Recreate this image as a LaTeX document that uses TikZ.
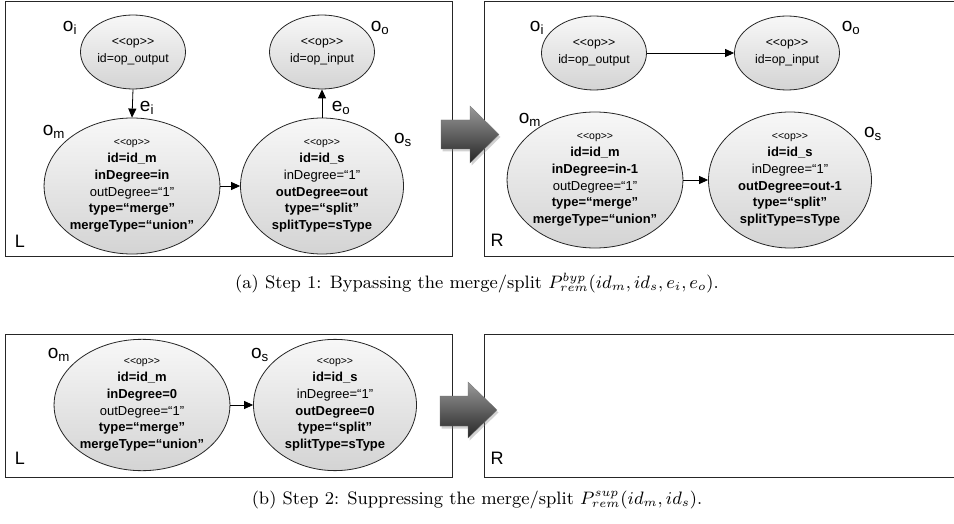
\documentclass[tikz,border=0pt]{standalone}
\usepackage{graphicx}
\usepackage{fontspec}
\newfontfamily\diagfont{Liberation Sans}
\usetikzlibrary{shapes.geometric,arrows.meta,shadows}

\newcommand{\stereo}{{\fontsize{10.5}{16.8}\selectfont <<op>>}}

\begin{document}
\begin{tikzpicture}[x=1pt,y=-1pt,
  panel/.style={draw=black!85,line width=0.9pt},
  opnode/.style={ellipse,draw=black!85,line width=0.8pt,
    top color=black!3,bottom color=black!17,inner sep=0pt,align=center,
    font=\diagfont\fontsize{13}{16.8}\selectfont},
  smallop/.style={opnode,minimum width=105pt,minimum height=74pt,
    font=\diagfont\fontsize{12.3}{17}\selectfont},
  bigop/.style={opnode,minimum width=163pt,minimum height=136pt},
  flow/.style={-{Triangle[length=9pt,width=8pt]},line width=0.8pt,black},
  tag/.style={font=\diagfont\fontsize{19}{19}\selectfont,inner sep=0pt},
  corner/.style={font=\diagfont\fontsize{18}{18}\selectfont,inner sep=0pt},
  caption/.style={font=\fontsize{9}{11}\selectfont,inner sep=0pt},
  fatarrow/.style={top color=black!40,bottom color=black!85,draw=black!55,
    line width=0.3pt,drop shadow={shadow xshift=1.5pt,shadow yshift=-2.5pt,opacity=0.35}}
]
\clip (0,0) rectangle (954,524);
\fill[white] (0,0) rectangle (954,524);

% ---------- step 1, left-hand side ----------
\draw[panel] (5,1) rectangle (452,256);
\node[smallop] (Loi) at (133,52) {<<op>>\\id=op\_output};
\node[smallop] (Loo) at (322,52) {<<op>>\\id=op\_input};
\node[bigop] (Lom) at (132,186) {\stereo\\\textbf{id=id\_m}\\\textbf{inDegree=in}\\outDegree=“1”\\\textbf{type=“merge”}\\\textbf{mergeType=“union”}};
\node[bigop] (Los) at (322,186) {\stereo\\\textbf{id=id\_s}\\inDegree=“1”\\\textbf{outDegree=out}\\\textbf{type=“split”}\\\textbf{splitType=sType}};
\draw[flow] (Loi.south) -- (Lom.north);
\draw[flow] (Los.north) -- (Loo.south);
\draw[flow] (Lom.east) -- (Los.west);
\node[tag] (Lti) at (70,28) {o\textsubscript{i}};
\node[tag] (Lto) at (380,28) {o\textsubscript{o}};
\node[tag] (Ltm) at (54,132) {o\textsubscript{m}};
\node[tag] (Lts) at (403,140) {o\textsubscript{s}};
\node[tag] (Lei) at (147,108) {e\textsubscript{i}};
\node[tag] (Leo) at (341,108) {e\textsubscript{o}};
\node[corner] (Lc) at (20,241) {L};

% ---------- step 1, right-hand side ----------
\draw[panel] (484,1) rectangle (960,256);
\node[smallop] (Roi) at (594,53) {<<op>>\\id=op\_output};
\node[smallop] (Roo) at (787,53) {<<op>>\\id=op\_input};
\node[bigop] (Rom) at (595,180) {\stereo\\\textbf{id=id\_m}\\\textbf{inDegree=in-1}\\outDegree=“1”\\\textbf{type=“merge”}\\\textbf{mergeType=“union”}};
\node[bigop] (Ros) at (790,180) {\stereo\\\textbf{id=id\_s}\\inDegree=“1”\\\textbf{outDegree=out-1}\\\textbf{type=“split”}\\\textbf{splitType=sType}};
\draw[flow] (Roi.east) -- (Roo.west);
\draw[flow] (Rom.east) -- (Ros.west);
\node[tag] (Rti) at (537,28) {o\textsubscript{i}};
\node[tag] (Rto) at (851,28) {o\textsubscript{o}};
\node[tag] (Rtm) at (530,120) {o\textsubscript{m}};
\node[tag] (Rts) at (873,134) {o\textsubscript{s}};
\node[corner] (Rc) at (497,240) {R};

% transformation arrow, step 1
\path[fatarrow] (441,120) -- (470,120) -- (470,106) -- (499,134.5)
  -- (470,163) -- (470,149) -- (441,149) -- cycle;

\node[caption] (capa) at (477,283)
  {\scalebox{2.0}{(a) Step 1: Bypassing the merge/split $P^{byp}_{rem}(id_m, id_s, e_i, e_o)$.}};

% ---------- step 2, left-hand side ----------
\draw[panel] (5,334) rectangle (452,477);
\node[bigop,minimum height=131pt] (Sm) at (142,405) {\stereo\\\textbf{id=id\_m}\\\textbf{inDegree=0}\\outDegree=“1”\\\textbf{type=“merge”}\\\textbf{mergeType=“union”}};
\node[bigop,minimum height=131pt] (Ss) at (335,405) {\stereo\\\textbf{id=id\_s}\\inDegree=“1”\\\textbf{outDegree=0}\\\textbf{type=“split”}\\\textbf{splitType=sType}};
\draw[flow] (Sm.east) -- (Ss.west);
\node[tag] (Stm) at (59,355) {o\textsubscript{m}};
\node[tag] (Sts) at (260,355) {o\textsubscript{s}};
\node[corner] (Sc) at (20,458) {L};

% ---------- step 2, right-hand side ----------
\draw[panel] (484,334) rectangle (960,477);
\node[corner] (Tc) at (497,458) {R};

% transformation arrow, step 2
\path[fatarrow] (440,396) -- (468,396) -- (468,382) -- (497,410)
  -- (468,438) -- (468,426) -- (440,426) -- cycle;

\node[caption] (capb) at (477,500)
  {\scalebox{2.0}{(b) Step 2: Suppressing the merge/split $P^{sup}_{rem}(id_m, id_s)$.}};
\end{tikzpicture}
\end{document}
